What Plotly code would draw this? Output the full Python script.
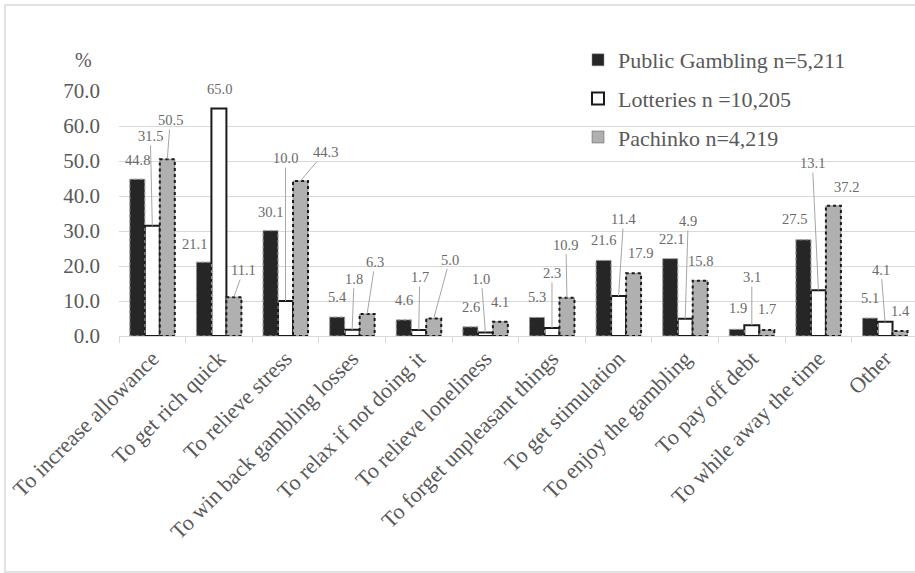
import plotly.graph_objects as go

categories = ["To increase allowance", "To get rich quick", "To relieve stress",
              "To win back gambling losses", "To relax if not doing it",
              "To relieve loneliness", "To forget unpleasant things",
              "To get stimulation", "To enjoy the gambling", "To pay off debt",
              "To while away the time", "Other"]
public_gambling = [44.8, 21.1, 30.1, 5.4, 4.6, 2.6, 5.3, 21.6, 22.1, 1.9, 27.5, 5.1]
lotteries = [31.5, 65.0, 10.0, 1.8, 1.7, 1.0, 2.3, 11.4, 4.9, 3.1, 13.1, 4.1]
pachinko = [50.5, 11.1, 44.3, 6.3, 5.0, 4.1, 10.9, 17.9, 15.8, 1.7, 37.2, 1.4]
series_names = ["Public Gambling n=5,211", "Lotteries n =10,205", "Pachinko n=4,219"]

# label offsets in pixels (dx, dy, leader line shown)
off_pg = [(0, -19, 0), (-9, -18, 0), (0, -19, 0), (0, -20, 0), (0, -20, 0), (1, -20, 0),
          (0, -20, 0), (0, -20, 0), (1, -20, 0), (1, -21, 0), (-9, -21, 0), (0, -20, 0)]
off_lo = [(-2, -90, 1), (1, -20, 0), (0, -143, 1), (2, -51, 1), (1, -53, 1), (-4, -54, 1),
          (0, -55, 1), (5, -77, 1), (3, -98, 1), (0, -48, 1), (-6, -127, 1), (-4, -52, 1)]
off_pa = [(3, -39, 1), (9.5, -27, 1), (24.5, -29, 1), (8, -52, 1), (16, -59, 1), (0, -20, 0),
          (-1, -53, 1), (7, -20, 0), (0, -20, 0), (0, -21, 0), (13, -19, 0), (0, -20, 0)]

FONT = "Liberation Serif, Times New Roman, serif"
TXT = "#595959"
GRID = "#d9d9d9"
BW = 0.225  # bar width in category units

fig = go.Figure()
fig.add_trace(go.Bar(x=categories, y=public_gambling, name=series_names[0],
                     marker=dict(color="#262626", line=dict(color="#8a8a8a", width=0.5)),
                     legendgroup="a"))
fig.add_trace(go.Bar(x=categories, y=lotteries, name=series_names[1],
                     marker=dict(color="white", line=dict(color="#1a1a1a", width=2)),
                     legendgroup="b"))
fig.add_trace(go.Bar(x=categories, y=pachinko, name=series_names[2],
                     marker=dict(color="#b0b0b0", line=dict(color="#555555", width=0.5)),
                     legendgroup="c"))

shapes = []
annotations = []
for k, (vals, offs) in enumerate([(public_gambling, off_pg), (lotteries, off_lo), (pachinko, off_pa)]):
    for i, v in enumerate(vals):
        xc = i + (k - 1) * BW
        if k == 2:
            shapes.append(dict(type="rect", xref="x", yref="y", x0=xc - BW / 2, x1=xc + BW / 2,
                               y0=0, y1=v, line=dict(color="#1a1a1a", width=2, dash="dot"),
                               fillcolor="rgba(0,0,0,0)", layer="above"))
        elif k == 0:
            shapes.append(dict(type="rect", xref="x", yref="y", x0=xc - BW / 2, x1=xc + BW / 2,
                               y0=0, y1=v, line=dict(color="#9a9a9a", width=1, dash="dot"),
                               fillcolor="rgba(0,0,0,0)", layer="above"))
        dx, dy, lead = offs[i]
        annotations.append(dict(
            x=xc, y=v, xref="x", yref="y", text=f"{v:.1f}",
            showarrow=True, arrowhead=0, arrowwidth=1,
            arrowcolor="#a6a6a6" if lead else "rgba(0,0,0,0)",
            ax=dx, ay=dy, axref="pixel", ayref="pixel",
            font=dict(family=FONT, size=14.5, color="#6a6a6a")))

annotations.append(dict(x=(83 - 119) / 796, y=(336 - 60) / 245, xref="paper", yref="paper",
                        text="%", showarrow=False, xanchor="center", yanchor="middle",
                        font=dict(family=FONT, size=20, color=TXT)))

shapes.append(dict(type="rect", xref="paper", yref="paper",
                   x0=(5 - 119) / 796, x1=1.02, y0=(336 - 572) / 245, y1=(336 - 5) / 245,
                   line=dict(color=GRID, width=1.5), fillcolor="rgba(0,0,0,0)", layer="below"))

fig.update_layout(
    width=915, height=573,
    margin=dict(l=119, r=0, t=91, b=237),
    paper_bgcolor="white", plot_bgcolor="white",
    barmode="group", bargap=1 - 3 * BW, bargroupgap=0,
    font=dict(family=FONT, color=TXT),
    showlegend=True,
    legend=dict(x=(578 - 119) / 796, y=(336 - 39) / 245, xanchor="left", yanchor="top",
                bgcolor="rgba(0,0,0,0)", font=dict(family=FONT, size=22, color=TXT),
                traceorder="grouped", tracegroupgap=7, itemclick=False),
    shapes=shapes, annotations=annotations,
)
fig.update_xaxes(type="category", range=[-0.5, 11.45], tickangle=-45,
                 tickfont=dict(family=FONT, size=22, color=TXT),
                 ticks="outside", tickson="boundaries", ticklen=6, tickcolor=GRID,
                 showline=True, linecolor=GRID, linewidth=1, showgrid=False)
fig.update_yaxes(range=[0, 70], dtick=10, tickformat=".1f",
                 tickfont=dict(family=FONT, size=21, color=TXT),
                 showgrid=True, gridcolor=GRID, gridwidth=1, zeroline=False,
                 showline=False, ticks="", ticklabelstandoff=18)

fig.write_html("out.html")
